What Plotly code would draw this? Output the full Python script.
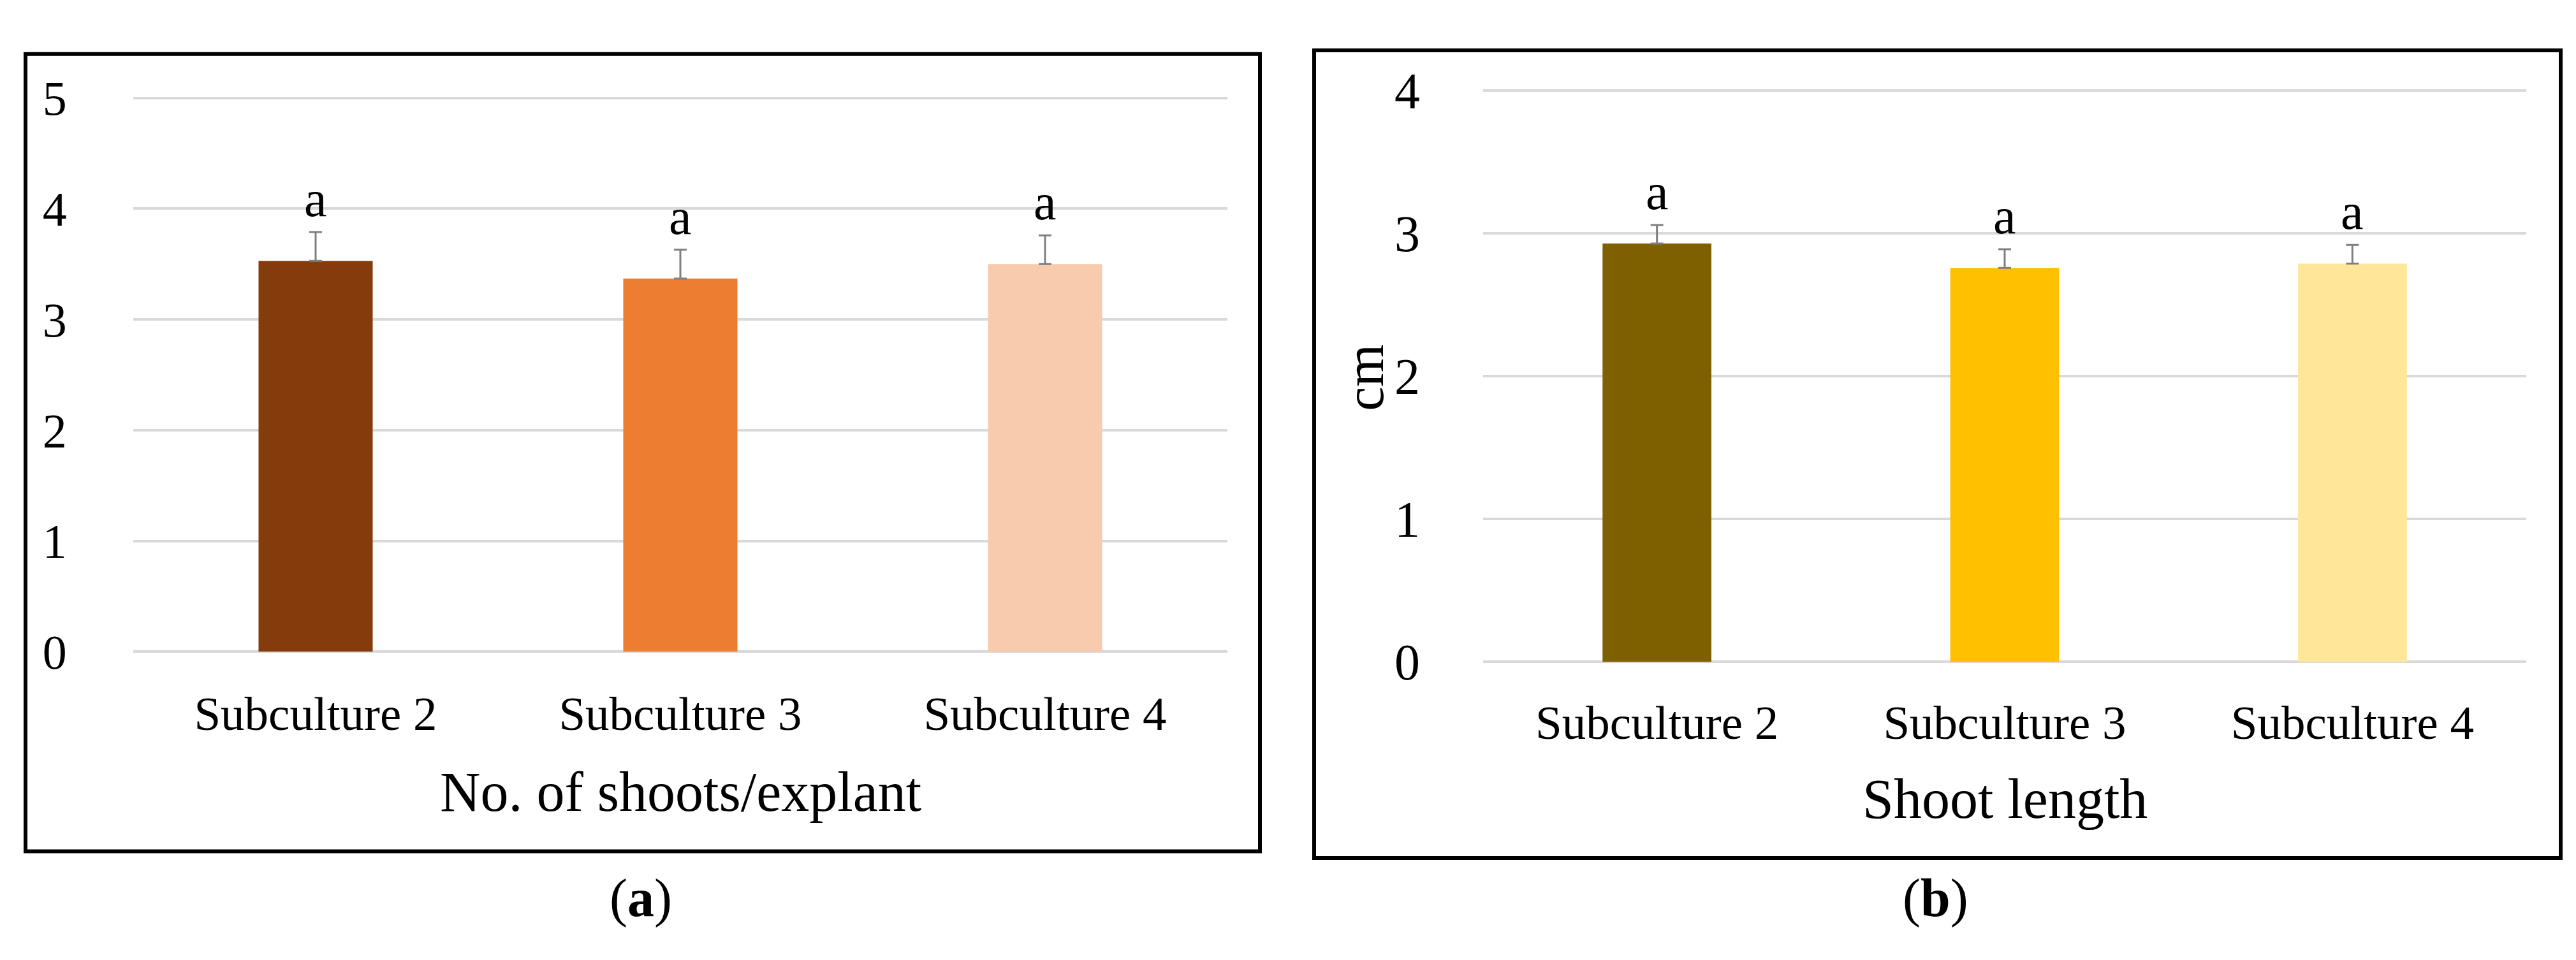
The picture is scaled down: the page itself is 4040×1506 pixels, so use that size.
import plotly.graph_objects as go

# data
categories = ['Subculture 2', 'Subculture 3', 'Subculture 4']

shoots_mean = [3.53, 3.37, 3.50]
shoots_err = [0.26, 0.26, 0.26]
shoots_letters = ['a', 'a', 'a']

length_mean = [2.93, 2.76, 2.79]
length_err = [0.13, 0.13, 0.13]
length_letters = ['a', 'a', 'a']

yticks_a = [0, 1, 2, 3, 4, 5]
yticks_b = [0, 1, 2, 3, 4]

colors_a = ['#843C0C', '#ED7D31', '#F8CBAD']
colors_b = ['#7F6000', '#FFC000', '#FFE699']

FONT = 'Liberation Serif'
W, H = 4040, 1506

fig = go.Figure()

fig.add_trace(go.Bar(
    x=categories, y=shoots_mean, marker_color=colors_a, marker_line_width=0,
    error_y=dict(type='data', array=shoots_err, symmetric=False,
                 arrayminus=[0] * len(shoots_err),
                 color='#7F7F7F', thickness=3, width=10),
    xaxis='x', yaxis='y', showlegend=False))

fig.add_trace(go.Bar(
    x=categories, y=length_mean, marker_color=colors_b, marker_line_width=0,
    error_y=dict(type='data', array=length_err, symmetric=False,
                 arrayminus=[0] * len(length_err),
                 color='#7F7F7F', thickness=3, width=10),
    xaxis='x2', yaxis='y2', showlegend=False))

annotations = []
# significance letters above the error bars
for cat, m, e, t in zip(categories, shoots_mean, shoots_err, shoots_letters):
    annotations.append(dict(x=cat, y=m + e, xref='x', yref='y', text=t,
                            showarrow=False, xanchor='center', yanchor='bottom',
                            yshift=6, font=dict(family=FONT, size=80, color='black')))
for cat, m, e, t in zip(categories, length_mean, length_err, length_letters):
    annotations.append(dict(x=cat, y=m + e, xref='x2', yref='y2', text=t,
                            showarrow=False, xanchor='center', yanchor='bottom',
                            yshift=6, font=dict(family=FONT, size=80, color='black')))


def label(x, y, text, size, angle=0):
    return dict(x=x / W, y=1 - y / H, xref='paper', yref='paper', text=text,
                textangle=angle, showarrow=False, xanchor='center',
                yanchor='middle', font=dict(family=FONT, size=size, color='black'))


# titles and panel labels
annotations += [
    label((201 + 1917) / 2, 1267, 'No. of shoots/explant', 88),
    label((2318 + 3954) / 2, 1278, 'Shoot length', 88),
    label(2132, 580, 'cm', 86, angle=-90),
    label(997, 1443, '(<b>a</b>)', 84),
    label(3027, 1443, '(<b>b</b>)', 84),
]

# frames round each panel
shapes = [
    dict(type='rect', xref='paper', yref='paper',
         x0=32 / W, x1=1968 / W, y0=1 - 1365 / H, y1=1 - 43 / H,
         line=dict(color='black', width=6)),
    dict(type='rect', xref='paper', yref='paper',
         x0=2053 / W, x1=4008 / W, y0=1 - 1376 / H, y1=1 - 37 / H,
         line=dict(color='black', width=6)),
]

grid = dict(showgrid=True, gridcolor='#D9D9D9', gridwidth=4,
            zeroline=True, zerolinecolor='#D9D9D9', zerolinewidth=4,
            showline=False, ticks='outside', tickcolor='rgba(0,0,0,0)')

# a little headroom so the top grid line is not clipped at the edge
pad = 0.03
unit_a = (1034 - 116) / 5
unit_b = (1051 - 104) / 4

fig.update_layout(
    width=W, height=H,
    margin=dict(l=0, r=0, t=0, b=0),
    paper_bgcolor='white', plot_bgcolor='white',
    bargap=0.687,
    font=dict(family=FONT, color='black'),
    xaxis=dict(domain=[201 / W, 1917 / W], anchor='y', showgrid=False,
               showline=False, ticks='outside', tickcolor='rgba(0,0,0,0)',
               ticklen=32, tickfont=dict(family=FONT, size=75)),
    yaxis=dict(domain=[1 - 1034 / H, 1 - (116 - pad * unit_a) / H], anchor='x',
               range=[0, 5 + pad], tickvals=yticks_a, ticklen=88,
               tickfont=dict(family=FONT, size=76), **grid),
    xaxis2=dict(domain=[2318 / W, 3954 / W], anchor='y2', showgrid=False,
                showline=False, ticks='outside', tickcolor='rgba(0,0,0,0)',
                ticklen=30, tickfont=dict(family=FONT, size=75)),
    yaxis2=dict(domain=[1 - 1051 / H, 1 - (104 - pad * unit_b) / H], anchor='x2',
                range=[0, 4 + pad], tickvals=yticks_b, ticklen=82,
                tickfont=dict(family=FONT, size=80), **grid),
    annotations=annotations,
    shapes=shapes,
)

fig.write_html('out.html')
